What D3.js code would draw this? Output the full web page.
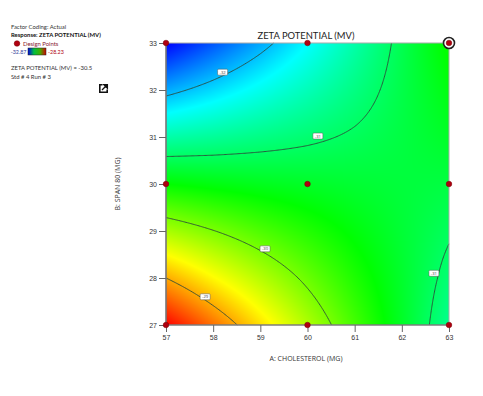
<!DOCTYPE html>
<html>
<head>
<meta charset="utf-8">
<script src="https://cdn.jsdelivr.net/npm/d3@7"></script>
<style>
  html, body { margin: 0; padding: 0; background: #fff; }
  svg { display: block; font-family: "Open Sans", sans-serif; }
  .axis path { display: none; }
  .axis line { stroke: #666; }
  .axis text { font-size: 7px; fill: #333; }
</style>
</head>
<body>
<svg id="chart" width="483" height="396"></svg>
<script>
// Values
const cholesterol = [57, 58, 59, 60, 61, 62, 63];
const span80 = [27, 28, 29, 30, 31, 32, 33];
const zetaByRow = [
  [-28.23, -28.74, -29.25, -29.75, -30.24, -30.72, -31.20],
  [-29.00, -29.37, -29.72, -30.07, -30.42, -30.75, -31.08],
  [-29.78, -29.99, -30.20, -30.40, -30.60, -30.79, -30.97],
  [-30.55, -30.62, -30.68, -30.73, -30.78, -30.82, -30.85],
  [-31.32, -31.24, -31.15, -31.06, -30.96, -30.85, -30.73],
  [-32.10, -31.87, -31.63, -31.39, -31.14, -30.88, -30.62],
  [-32.87, -32.49, -32.11, -31.72, -31.32, -30.91, -30.50]
];
const contourLevels = [-32, -31, -30, -29];
const contourLabels = [
  { a: 58.2, b: 32.38, text: "-32" },
  { a: 60.22, b: 31.02, text: "-31" },
  { a: 59.1, b: 28.62, text: "-30" },
  { a: 57.83, b: 27.6, text: "-29" },
  { a: 62.68, b: 28.1, text: "-31" }
];
const designA = [57, 60, 63, 57, 60, 63, 57, 60, 63];
const designB = [27, 27, 27, 30, 30, 30, 33, 33, 33];
const selectedPoint = { a: 63, b: 33 };
const zetaMin = -32.87, zetaMax = -28.23;
const rainbow = ["#0000ff", "#00ffff", "#00ff00", "#ffff00", "#ff0000"];
const legendRamp = ["#0000e0", "#00c040", "#40b000", "#d00000"];
const legendLines = ["ZETA POTENTIAL (MV) = -30.5", "Std # 4 Run # 3"];

const svg = d3.select("#chart");
const x = d3.scaleLinear().domain([57, 63]).range([166, 449]);
const y = d3.scaleLinear().domain([27, 33]).range([325, 43]);
const color = d3.scaleLinear()
  .domain(rainbow.map((_, i) => zetaMin + (zetaMax - zetaMin) * i / 4))
  .range(rainbow)
  .clamp(true);

// value at any spot of the plot, between the grid values read above
function zetaAt(a, b) {
  const i = Math.min(Math.floor(a - cholesterol[0]), cholesterol.length - 2);
  const j = Math.min(Math.floor(b - span80[0]), span80.length - 2);
  const s = a - cholesterol[i], t = b - span80[j];
  return d3.interpolate(
    d3.interpolate(zetaByRow[j][i], zetaByRow[j][i + 1])(s),
    d3.interpolate(zetaByRow[j + 1][i], zetaByRow[j + 1][i + 1])(s)
  )(t);
}

// Colour field
const pw = 283, ph = 282;
const canvas = document.createElement("canvas");
canvas.width = pw; canvas.height = ph;
const ctx = canvas.getContext("2d");
const img = ctx.createImageData(pw, ph);
for (let py = 0; py < ph; py++) {
  for (let px = 0; px < pw; px++) {
    const c = d3.rgb(color(zetaAt(x.invert(166 + px + 0.5), y.invert(43 + py + 0.5))));
    const k = (py * pw + px) * 4;
    img.data[k] = c.r; img.data[k + 1] = c.g; img.data[k + 2] = c.b; img.data[k + 3] = 255;
  }
}
ctx.putImageData(img, 0, 0);
svg.append("image")
  .attr("x", 166).attr("y", 43)
  .attr("width", pw).attr("height", ph)
  .attr("href", canvas.toDataURL());

// Contour lines, with the part that runs along the plot edge left out
const n = 241;
const values = new Array(n * n);
const gridA = d3.scaleLinear().domain([0.5, n - 0.5]).range([57, 63]).clamp(true);
const gridB = d3.scaleLinear().domain([0.5, n - 0.5]).range([27, 33]).clamp(true);
for (let j = 0; j < n; j++) {
  for (let i = 0; i < n; i++) {
    values[j * n + i] = zetaAt(gridA(i + 0.5), gridB(j + 0.5));
  }
}
const onEdge = p => p[0] <= 0.5 || p[0] >= n - 0.5 || p[1] <= 0.5 || p[1] >= n - 0.5;
const line = d3.line().x(p => x(gridA(p[0]))).y(p => y(gridB(p[1])));
const contourGroup = svg.append("g")
  .attr("fill", "none").attr("stroke", "#2d4a3a").attr("stroke-width", 0.9);
d3.contours().size([n, n]).thresholds(contourLevels)(values).forEach(shape => {
  shape.coordinates.forEach(poly => poly.forEach(ring => {
    let run = [];
    const flush = () => {
      if (run.length > 1) contourGroup.append("path").attr("d", line(run));
      run = [];
    };
    for (let k = 0; k < ring.length - 1; k++) {
      const p = ring[k], q = ring[k + 1];
      if (onEdge(p) && onEdge(q)) { flush(); continue; }
      if (!run.length) run.push(p);
      run.push(q);
    }
    flush();
  }));
});

// Frame
svg.append("rect")
  .attr("x", 166).attr("y", 43).attr("width", pw).attr("height", ph)
  .attr("fill", "none").attr("stroke", "#aaa").attr("stroke-width", 1);
svg.append("path")
  .attr("d", "M166,43V325H449")
  .attr("fill", "none").attr("stroke", "#666").attr("stroke-width", 1.2);

// Axes
svg.append("g").attr("class", "axis")
  .attr("transform", "translate(0,325)")
  .call(d3.axisBottom(x).tickValues(cholesterol).tickFormat(d3.format("d")).tickSize(7).tickPadding(3));
svg.append("g").attr("class", "axis")
  .attr("transform", "translate(166,0)")
  .call(d3.axisLeft(y).tickValues(span80).tickFormat(d3.format("d")).tickSize(7).tickPadding(2));

svg.append("text").attr("x", 306).attr("y", 38.5)
  .attr("text-anchor", "middle").attr("font-size", 9.4).attr("fill", "#222")
  .attr("font-family", "Lato")
  .text("ZETA POTENTIAL (MV)");
svg.append("text").attr("x", 306).attr("y", 361)
  .attr("text-anchor", "middle").attr("font-size", 7).attr("fill", "#333")
  .text("A: CHOLESTEROL (MG)");
svg.append("text").attr("transform", "translate(120,184) rotate(-90)")
  .attr("text-anchor", "middle").attr("font-size", 7).attr("fill", "#333")
  .text("B: SPAN 80 (MG)");

// Contour labels
const tags = svg.append("g").selectAll("g").data(contourLabels).join("g")
  .attr("transform", d => `translate(${x(d.a)},${y(d.b)})`);
tags.append("rect")
  .attr("x", -5).attr("y", -3).attr("width", 10).attr("height", 6).attr("rx", 1)
  .attr("fill", "#fff").attr("stroke", "#555").attr("stroke-width", 0.5);
tags.append("text")
  .attr("y", 1.6).attr("text-anchor", "middle").attr("font-size", 4.2).attr("fill", "#444")
  .text(d => d.text);

// Design points
svg.append("circle")
  .attr("cx", x(selectedPoint.a)).attr("cy", y(selectedPoint.b)).attr("r", 5.5)
  .attr("fill", "#fff").attr("stroke", "#222").attr("stroke-width", 1.6);
svg.append("g").selectAll("circle").data(designA).join("circle")
  .attr("cx", d => x(d))
  .attr("cy", (d, i) => y(designB[i]))
  .attr("r", 2.8)
  .attr("fill", "#b00010").attr("stroke", "#700").attr("stroke-width", 0.5);

// Legend block on the left
const legend = svg.append("g").attr("font-size", 5.9).attr("font-family", "Lato").attr("fill", "#333");
legend.append("text").attr("x", 11).attr("y", 29).text("Factor Coding: Actual");
legend.append("text").attr("x", 11).attr("y", 37).attr("font-weight", 700).attr("fill", "#111")
  .text("Response: ZETA POTENTIAL (MV)");
legend.append("circle").attr("cx", 17).attr("cy", 43.5).attr("r", 2.8)
  .attr("fill", "#b00010").attr("stroke", "#700").attr("stroke-width", 0.5);
legend.append("text").attr("x", 23).attr("y", 45.5).attr("fill", "#8a2030").text("Design Points");
legend.append("text").attr("x", 26.5).attr("y", 54).attr("text-anchor", "end").attr("font-size", 5.4)
  .attr("fill", "#33409a").text(zetaMin.toFixed(2));
legend.append("text").attr("x", 48).attr("y", 54).attr("font-size", 5.4)
  .attr("fill", "#b00010").text(zetaMax.toFixed(2));

const grad = svg.append("defs").append("linearGradient").attr("id", "legendGrad");
legendRamp.forEach((c, i) => {
  grad.append("stop").attr("offset", `${i * 100 / (legendRamp.length - 1)}%`).attr("stop-color", c);
});
legend.append("rect").attr("x", 28).attr("y", 48).attr("width", 18).attr("height", 7)
  .attr("fill", "url(#legendGrad)").attr("stroke", "#222").attr("stroke-width", 0.5);

legend.selectAll("text.info").data(legendLines).join("text")
  .attr("class", "info").attr("x", 11).attr("y", (d, i) => 70 + i * 9)
  .text(d => d);

// Export icon
const icon = svg.append("g").attr("transform", "translate(99,84)");
icon.append("path")
  .attr("d", "M3.5,0.8H0.8V8.2H8.2V5.5")
  .attr("fill", "none").attr("stroke", "#111").attr("stroke-width", 1.6);
icon.append("path")
  .attr("d", "M3,6L7,2M4.8,0.6H8.4V4.2Z")
  .attr("fill", "#111").attr("stroke", "#111").attr("stroke-width", 1.3);
</script>
</body>
</html>
